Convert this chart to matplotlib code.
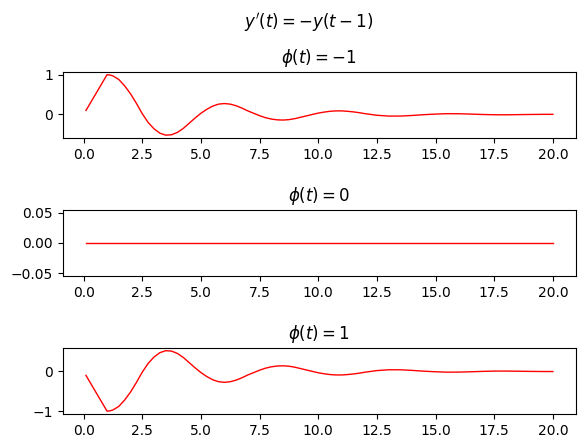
import matplotlib
matplotlib.use('Agg')
import matplotlib.pyplot as plt

# values
t_vals = [0.1, 1.0, 1.125, 1.25, 1.5, 1.75, 2.0, 2.25, 2.5, 2.75, 3.0, 3.25, 3.5, 3.75,
          4.0, 4.25, 4.5, 4.75, 5.0, 5.25, 5.5, 5.75, 6.0, 6.25, 6.5, 6.75,
          7.0, 7.25, 7.5, 7.75, 8.0, 8.25, 8.5, 8.75, 9.0, 9.25, 9.5, 9.75,
          10.0, 10.25, 10.5, 10.75, 11.0, 11.25, 11.5, 11.75, 12.0, 12.5,
          13.0, 13.5, 14.0, 14.5, 15.0, 15.5, 16.0, 16.5, 17.0, 17.5, 18.0,
          18.5, 19.0, 19.5, 20.0]

y_minus = [0.1, 1.0, 0.992, 0.97, 0.88, 0.72, 0.52, 0.28, 0.02, -0.2, -0.36, -0.47,
           -0.52, -0.51, -0.45, -0.35, -0.22, -0.09, 0.03, 0.13, 0.21, 0.26,
           0.275, 0.26, 0.22, 0.16, 0.09, 0.03, -0.03, -0.08, -0.115, -0.135,
           -0.14, -0.13, -0.105, -0.07, -0.035, 0.0, 0.035, 0.06, 0.08, 0.09,
           0.09, 0.08, 0.065, 0.045, 0.02, -0.02, -0.04, -0.04, -0.025,
           -0.005, 0.01, 0.02, 0.018, 0.01, 0.0, -0.007, -0.008, -0.004, 0.0,
           0.003, 0.004]

y_zero = [0.0] * len(t_vals)

y_plus = [-0.1, -1.0, -0.992, -0.97, -0.88, -0.72, -0.52, -0.28, -0.02, 0.2, 0.36,
          0.47, 0.52, 0.51, 0.45, 0.35, 0.22, 0.09, -0.03, -0.13, -0.21,
          -0.26, -0.275, -0.26, -0.22, -0.16, -0.09, -0.03, 0.03, 0.08,
          0.115, 0.135, 0.14, 0.13, 0.105, 0.07, 0.035, 0.0, -0.035, -0.06,
          -0.08, -0.09, -0.09, -0.08, -0.065, -0.045, -0.02, 0.02, 0.04,
          0.04, 0.025, 0.005, -0.01, -0.02, -0.018, -0.01, 0.0, 0.007, 0.008,
          0.004, 0.0, -0.003, -0.004]

titles = [r'$\phi(t) = -1$', r'$\phi(t) = 0$', r'$\phi(t) = 1$']

fig, axes = plt.subplots(3, 1, figsize=(5.85, 4.48), dpi=100)
fig.suptitle(r"$y'(t) = -y(t-1)$", x=0.528, y=0.975)

for ax, ys, title in zip(axes, [y_minus, y_zero, y_plus], titles):
    ax.plot(t_vals, ys, color='red', linewidth=1)
    ax.set_title(title)

plt.subplots_adjust(left=0.107, right=0.985, top=0.84, bottom=0.0755, hspace=1.075)
plt.savefig('out.png')
